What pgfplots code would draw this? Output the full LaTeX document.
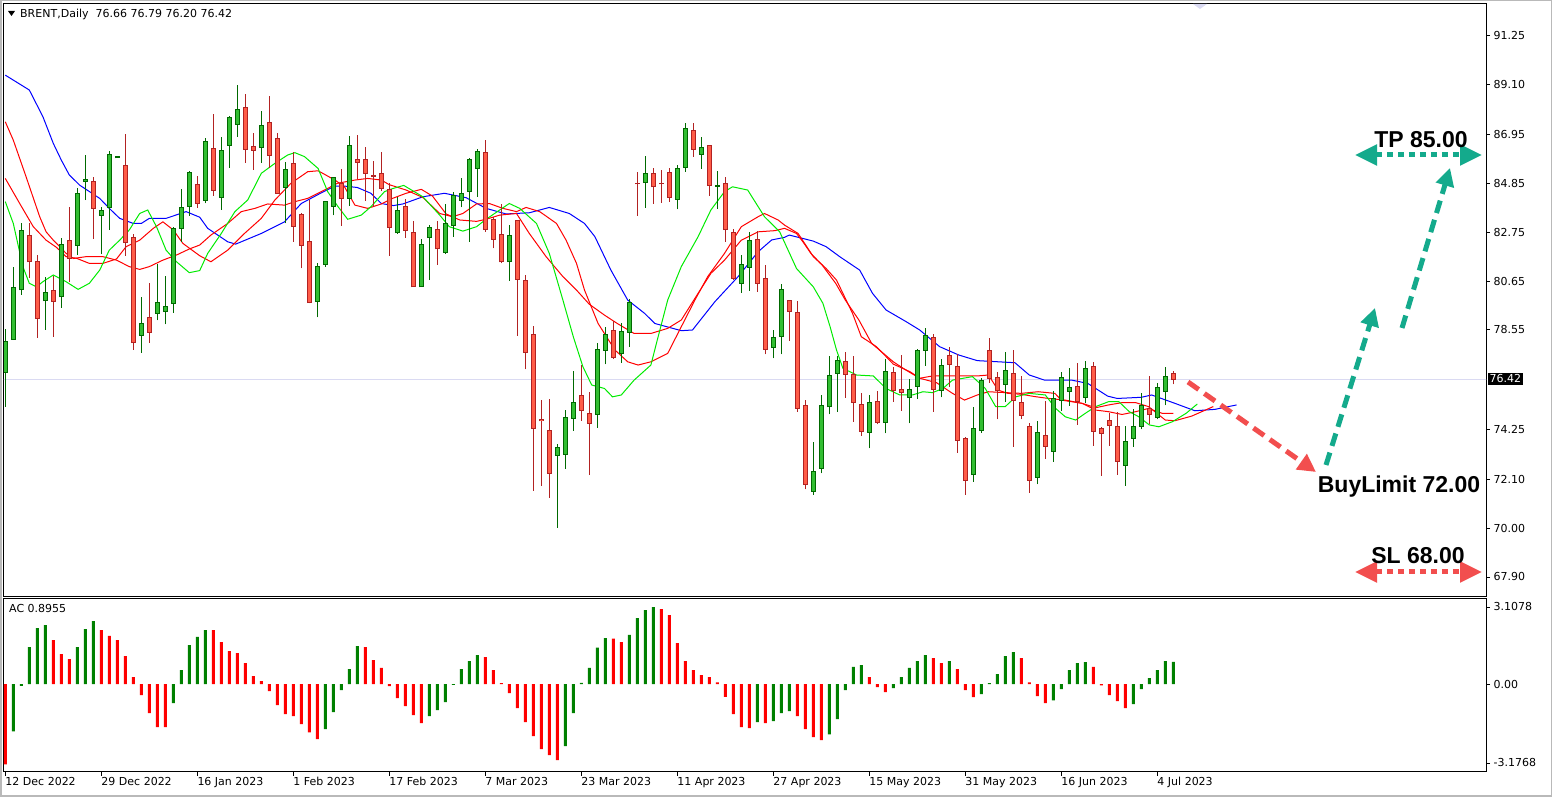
\documentclass[border=0pt]{standalone}
\usepackage{fontspec}
\setmainfont{DejaVu Sans}
\newfontfamily\annfont{Liberation Sans}
\usepackage{pgfplots}
\usepackage{pgfplotstable}
\pgfplotsset{compat=1.18}
\usetikzlibrary{arrows.meta}

\definecolor{gfill}{RGB}{50,190,50}
\definecolor{gedge}{RGB}{0,105,0}
\definecolor{rfill}{RGB}{255,92,72}
\definecolor{redge}{RGB}{178,34,34}
\definecolor{acgreen}{RGB}{0,128,0}
\definecolor{acred}{RGB}{255,0,0}
\definecolor{malime}{RGB}{0,235,0}
\definecolor{lav}{RGB}{218,218,242}
\definecolor{teal1}{RGB}{20,170,140}
\definecolor{red1}{RGB}{242,78,78}

% candles: x = bar number (12 Dec 2022 = 0)
\pgfplotstableread{
x o h l c
0 76.71 78.57 75.23 78.06
1 78.14 81.24 78.14 80.38
2 80.27 83.13 80.06 82.83
5 79.80 80.81 78.54 80.16
7 79.97 82.49 79.50 82.24
9 82.19 84.64 81.77 84.43
10 84.94 86.08 84.14 85.04
12 83.48 83.84 81.81 83.69
13 83.82 86.25 82.85 86.11
14 85.96 86.00 85.96 86.00
17 78.31 79.96 77.56 78.82
19 79.26 81.38 78.95 79.73
20 79.34 80.86 78.78 79.56
21 79.69 82.99 79.28 82.92
22 82.92 84.61 82.34 83.82
23 83.88 85.39 83.46 85.33
25 84.14 86.80 84.00 86.67
27 84.25 86.84 83.72 86.28
28 86.49 87.76 85.53 87.70
29 87.40 89.09 86.87 88.04
32 86.41 87.97 85.75 87.36
35 84.68 85.76 83.13 85.46
39 79.77 81.44 79.08 81.28
40 81.37 84.08 81.27 84.08
41 83.88 85.14 83.48 85.09
43 84.21 86.90 83.90 86.49
49 82.73 84.25 82.69 83.69
52 80.40 82.46 80.40 82.23
53 82.52 83.06 80.69 82.96
55 81.87 83.97 81.81 83.13
56 83.03 84.48 82.56 84.34
57 84.12 85.09 83.82 84.43
58 84.50 85.93 82.34 85.89
59 85.50 86.32 84.28 86.24
63 81.48 83.06 80.66 82.62
69 73.14 73.63 70.02 73.48
70 73.18 75.09 72.56 74.77
71 74.73 76.77 74.20 75.42
74 74.90 77.96 74.33 77.70
75 77.66 78.65 77.06 78.34
77 77.53 78.82 77.13 78.48
78 78.44 79.86 77.82 79.73
80 84.89 86.03 83.81 85.29
84 84.17 85.65 83.74 85.50
85 85.55 87.44 85.36 87.23
87 86.11 86.84 85.49 86.41
89 84.74 85.39 83.77 84.77
92 80.55 81.76 80.15 81.37
93 81.24 82.75 80.23 82.40
96 77.79 78.52 77.32 78.22
97 78.25 80.52 77.49 80.29
101 71.59 73.71 71.44 72.45
102 72.58 75.74 72.36 75.29
103 75.23 77.42 74.90 76.60
104 76.67 77.43 75.02 77.23
108 74.13 75.74 73.44 75.42
110 74.56 77.29 74.09 76.76
113 75.64 76.43 74.52 75.98
114 76.11 77.72 75.58 77.66
115 77.66 78.64 77.01 78.31
117 75.94 77.29 75.64 77.01
121 72.31 75.22 72.00 74.30
122 74.20 76.45 74.12 76.37
125 76.20 77.58 75.45 76.80
129 72.19 74.62 71.89 74.13
131 73.31 75.91 72.86 75.59
132 75.51 76.71 75.06 76.50
133 75.90 76.89 75.28 76.07
135 75.64 77.19 75.41 76.89
140 72.71 74.40 71.83 73.74
141 73.87 75.12 73.51 74.39
142 74.39 75.81 74.26 75.29
144 74.77 76.24 74.69 76.07
145 75.89 76.93 75.29 76.54
}\upcandles

\pgfplotstableread{
x o h l c
3 82.63 83.13 80.79 81.48
4 81.47 81.75 78.21 79.04
6 80.25 80.86 78.25 79.77
8 82.40 83.85 80.62 81.62
11 84.94 85.12 82.46 83.78
15 85.63 86.98 81.73 82.30
16 82.53 82.67 77.68 78.00
18 79.08 80.58 77.99 78.44
24 84.81 85.17 83.81 84.00
26 86.36 87.84 84.32 84.55
30 88.13 88.71 85.75 86.32
31 86.45 87.01 85.45 86.28
33 87.49 88.62 85.50 86.06
34 86.80 87.01 84.43 84.43
36 85.72 86.19 82.34 83.00
37 83.52 83.56 81.19 82.19
38 82.36 84.14 79.69 79.72
42 84.86 85.47 83.03 84.21
44 85.89 86.94 85.04 85.76
45 85.89 86.41 84.11 85.29
46 85.20 85.82 83.85 85.16
47 85.29 86.21 84.54 84.63
48 84.60 84.86 81.74 82.96
50 83.88 84.17 82.52 82.82
51 82.75 83.23 80.40 80.40
54 82.85 83.22 81.35 82.04
60 86.19 86.72 82.77 82.87
61 83.29 83.39 82.06 82.44
62 82.66 83.97 81.41 81.48
64 83.26 83.26 78.29 80.72
65 80.68 80.91 76.84 77.58
66 78.35 78.71 71.62 74.30
67 74.69 75.52 71.83 74.63
68 74.23 75.56 71.31 72.36
72 75.72 77.03 74.63 75.09
73 74.95 75.87 72.29 74.52
76 78.51 78.94 77.29 77.36
79 84.86 85.35 83.46 84.84
81 85.29 85.53 83.97 84.71
82 84.86 85.43 84.02 84.84
83 85.33 85.50 84.07 84.25
86 87.14 87.44 86.00 86.32
88 86.49 86.49 84.32 84.77
90 84.86 85.13 82.35 82.87
91 82.75 82.89 80.69 80.76
94 82.44 82.82 80.19 80.55
95 80.76 81.34 77.49 77.70
98 79.79 79.83 78.08 79.33
99 79.30 79.79 75.02 75.16
100 75.29 75.52 71.67 71.89
105 77.19 77.58 75.62 76.63
106 76.64 77.42 74.59 75.42
107 75.34 75.82 73.99 74.17
109 75.46 75.91 74.47 74.56
111 76.71 76.96 75.45 75.94
112 75.98 77.46 75.06 75.85
116 78.22 78.37 75.02 75.98
118 77.45 77.81 76.10 77.06
119 76.97 77.50 73.25 73.78
120 73.87 73.93 71.44 72.05
123 77.66 78.19 76.27 76.46
124 76.50 76.71 74.69 75.92
126 76.67 77.68 73.51 75.51
127 75.42 76.56 74.69 74.86
128 74.39 74.52 71.53 72.06
130 74.00 75.48 73.00 73.53
134 76.11 77.10 74.46 75.46
136 76.97 77.14 73.55 74.17
137 74.30 74.34 72.26 74.09
138 74.65 74.98 73.55 74.43
139 74.39 75.02 72.31 72.88
143 75.16 76.54 74.50 74.90
146 76.66 76.79 76.20 76.42
}\downcandles

% accelerator oscillator
\pgfplotstableread{
x v
1 -1.90
2 -0.07
3 1.49
4 2.26
5 2.38
9 1.49
10 2.22
11 2.54
21 -0.77
22 0.56
23 1.57
24 1.90
25 2.18
40 -1.81
41 -1.13
42 -0.24
43 0.60
44 1.53
53 -1.29
54 -1.05
55 -0.73
56 -0.03
57 0.60
58 0.93
59 1.17
70 -2.50
71 -1.17
72 0.05
73 0.65
74 1.47
75 1.85
78 1.98
79 2.66
80 2.98
81 3.10
94 -1.53
96 -1.49
97 -1.17
98 -1.09
103 -2.02
104 -1.41
105 -0.24
106 0.69
107 0.77
111 -0.16
112 0.28
113 0.65
114 0.93
115 1.17
118 0.93
122 -0.40
123 0.04
124 0.40
125 1.13
126 1.29
131 -0.65
132 -0.20
133 0.56
134 0.85
135 0.89
141 -0.81
142 -0.20
143 0.24
144 0.56
145 0.93
146 0.90
}\acup

\pgfplotstableread{
x v
0 -3.23
6 1.77
7 1.21
8 1.01
12 2.18
13 1.94
14 1.77
15 1.13
16 0.28
17 -0.44
18 -1.17
19 -1.73
20 -1.73
26 2.18
27 1.69
28 1.33
29 1.25
30 0.85
31 0.32
32 0.12
33 -0.28
34 -0.85
35 -1.21
36 -1.29
37 -1.61
38 -1.94
39 -2.22
45 1.49
46 0.97
47 0.65
48 -0.08
49 -0.56
50 -0.89
51 -1.25
52 -1.57
60 1.09
61 0.56
62 0.04
63 -0.36
64 -0.97
65 -1.53
66 -2.10
67 -2.62
68 -2.86
69 -3.06
76 1.83
77 1.69
82 3.02
83 2.78
84 1.65
85 0.93
86 0.56
87 0.36
88 0.28
89 0.07
90 -0.51
91 -1.21
92 -1.73
93 -1.77
95 -1.57
99 -1.29
100 -1.81
101 -2.14
102 -2.26
108 0.28
109 -0.12
110 -0.32
116 1.05
117 0.85
119 0.60
120 -0.24
121 -0.52
127 1.05
128 0.07
129 -0.48
130 -0.77
136 0.69
137 -0.05
138 -0.44
139 -0.69
140 -0.97
}\acdown

\pgfplotsset{
  wicks/.style={draw=none, mark=none, mark size=0pt, error bars/.cd, y dir=plus, y explicit,
    error mark=none, error bar style={solid, line width=1pt, draw=#1}},
  bodies/.style 2 args={draw=none, mark=none, mark size=0pt, error bars/.cd, y dir=plus, y explicit,
    error mark=none, error bar style={solid, line width=#2, draw=#1}},
}

\begin{document}
\begin{tikzpicture}
\path (0pt,0pt) rectangle (1552pt,797pt);
\draw[gray!55, line width=1.5pt] (0.75pt,0.75pt) rectangle (1551.25pt,796.25pt);

\begin{axis}[
  at={(4pt,200pt)}, anchor=south west, scale only axis,
  width=1482pt, height=593pt,
  xmin=-0.1625, xmax=185.09, ymin=67.036, ymax=92.586,
  xtick=\empty,
  ytick={67.90,70.00,72.10,74.25,78.55,80.65,82.75,84.85,86.95,89.10,91.25},
  ytick pos=right, yticklabel pos=right,
  tick align=outside, major tick length=4pt,
  tick style={black, line width=0.8pt},
  yticklabel style={font=\fontsize{11}{13}\selectfont,
    /pgf/number format/.cd, fixed, fixed zerofill, precision=2, assume math mode=true},
  axis line style={line width=1pt},
]
\draw[lav, line width=1pt] (axis cs:-1,76.42) -- (axis cs:190,76.42);

% moving averages
\addplot[blue, line width=1pt] table {
x y
0 89.52
3.0 88.88
4.7 87.73
6.0 86.58
7.0 85.86
8.0 85.22
9.3 84.78
11.8 84.21
13.0 83.78
14.3 83.35
16.0 83.13
17.0 83.13
18.0 83.35
20.1 83.35
22.6 83.64
24.3 83.40
25.3 82.92
27.8 82.34
28.8 82.24
32.0 82.70
34.9 83.20
37.0 83.99
39.5 84.45
41.2 84.74
42.4 84.74
44.0 84.68
45.7 84.43
47.0 83.99
48.5 83.90
49.7 83.97
52.2 84.28
54.9 84.43
57.6 84.24
60.1 83.78
62.6 83.54
65.5 83.59
68.0 83.82
70.5 83.56
72.4 83.13
73.7 82.56
75.7 81.12
77.8 79.83
79.9 79.26
81.2 78.82
84.5 78.51
85.9 78.54
88.7 79.76
91.6 80.84
94.1 81.91
95.8 82.42
97.4 82.53
98.0 82.63
101.0 82.37
102.6 82.13
104.3 81.70
106.8 81.12
108.4 80.12
110.1 79.40
112.6 78.90
114.3 78.54
116.8 77.82
119.2 77.46
121.5 77.22
126.2 77.13
128.0 76.60
129.9 76.38
133.3 76.38
135.3 76.24
137.8 75.69
139.0 75.59
142.0 75.64
143.3 75.74
146.2 75.38
148.7 75.06
151.2 75.12
153.9 75.31
};
\addplot[red, line width=1pt] table {
x y
0 87.51
1 86.72
2.6 85.14
4.3 83.42
5.1 82.77
6.0 82.41
6.8 82.13
7.6 81.84
8.5 81.62
10.1 81.70
12.2 81.70
13.9 81.55
15.5 81.27
16.8 81.15
18.0 81.27
19.7 81.55
21.4 81.77
23.0 82.03
24.3 82.20
25.7 82.63
27.8 83.13
29.5 83.64
31.2 83.78
32.8 83.97
34.9 83.92
36.2 84.07
37.8 84.21
40.3 84.64
41.5 84.86
43.7 85.00
45.3 85.07
47.0 85.00
48.0 84.80
50.1 84.57
52.2 84.25
54.3 83.56
55.9 83.42
57.2 83.56
58.9 83.97
60.5 83.99
62.2 83.78
63.9 83.64
65.1 83.82
66.8 83.64
68.9 83.13
70.1 82.41
71.4 81.41
72.4 80.26
74.1 78.82
76.2 77.68
77.8 77.17
79.1 77.03
80.7 77.17
82.8 77.53
84.5 78.68
86.2 79.83
87.8 80.84
89.9 81.84
92.0 82.99
94.1 83.42
94.9 83.56
96.6 83.28
97.4 83.06
99.1 82.70
101.0 81.70
102.6 81.19
103.9 80.69
104.7 80.12
105.9 79.26
107.0 78.25
108.9 77.82
111.0 77.07
113.1 76.74
114.3 76.46
116.4 76.27
118.4 75.81
119.9 75.52
121.5 75.74
122.9 75.88
124.5 75.85
127.0 75.81
129.1 75.88
131.2 75.81
132.0 75.52
134.6 75.38
136.3 75.19
137.9 75.31
139.6 75.41
141.3 75.41
142.9 75.24
145.0 74.66
146.2 74.63
148.3 74.83
151.0 75.24
};
\addplot[red, line width=1pt] table {
x y
0 85.07
1.8 83.99
3.5 82.99
5.1 82.41
6.4 82.10
7.6 81.70
8.9 81.63
10.5 81.41
12.2 81.41
13.9 81.60
15.1 82.13
16.8 82.41
18.5 82.92
19.7 83.20
21.0 82.85
22.2 82.27
24.3 81.74
25.7 81.48
27.8 81.98
29.9 82.70
32.0 83.35
33.7 84.14
35.7 84.86
37.8 85.36
39.1 85.40
41.2 85.00
42.4 84.71
43.7 83.92
45.3 83.78
47.0 83.97
48.4 84.21
50.1 84.43
52.0 84.60
53.4 84.31
55.1 83.54
56.8 83.28
58.9 83.22
60.1 83.31
61.8 83.49
63.9 83.56
65.5 82.70
67.6 81.70
69.7 80.84
71.4 80.26
73.0 79.65
74.9 79.18
76.5 78.82
78.6 78.39
80.7 78.39
82.8 78.61
84.5 78.97
86.6 80.12
88.2 80.98
89.9 81.55
92.0 82.41
94.1 82.77
96.2 82.82
97.4 82.92
98.9 82.70
99.7 82.34
100.7 81.84
102.1 81.34
103.8 80.55
105.0 79.83
106.7 78.97
108.3 77.96
111.0 77.17
112.6 76.81
114.3 76.46
115.9 76.56
118.8 76.56
121.5 76.56
122.9 76.60
124.1 75.95
125.3 75.81
127.0 75.77
128.7 75.67
130.4 75.59
132.5 75.52
134.6 75.38
136.3 75.09
137.9 75.02
139.6 74.90
141.3 75.02
142.9 75.16
144.6 74.95
146.0 74.95
};
\addplot[malime, line width=1pt] table {
x y
0 84.07
1 83.13
2.2 81.27
3.0 80.55
3.9 80.40
4.7 80.62
6.0 80.91
7.6 80.62
9.1 80.29
10.5 80.55
11.8 81.12
13.0 81.98
14.3 82.41
15.5 82.85
16.8 83.56
17.8 83.71
18.9 82.99
20.1 81.98
21.4 81.48
23.0 81.01
24.3 81.10
25.3 81.84
27.0 82.70
28.7 83.64
30.3 84.14
32.0 85.29
33.7 85.72
35.3 86.08
36.2 86.18
37.4 86.01
39.1 85.50
40.3 84.50
41.6 83.85
42.8 83.31
44.5 83.49
45.7 83.85
47.4 84.50
48.3 84.62
49.8 84.77
52.2 84.28
54.3 83.49
55.5 82.99
57.2 82.80
58.9 82.99
60.1 83.31
61.8 83.71
63.0 83.99
64.3 83.78
66.4 83.13
68.0 81.84
69.7 79.83
71.0 78.25
72.2 76.96
73.3 76.17
74.9 76.02
75.9 75.66
77.0 75.74
78.6 76.38
80.7 77.03
81.5 78.11
82.8 79.83
84.5 81.27
86.6 82.56
88.2 83.71
89.9 84.50
90.9 84.71
92.8 84.57
94.9 83.42
96.8 82.77
98.9 81.19
101.0 80.40
102.2 79.69
103.1 78.68
103.9 77.68
104.7 76.89
106.4 76.60
108.5 76.56
110.1 76.02
111.8 75.74
113.4 75.74
114.7 75.88
115.9 75.84
117.2 76.02
118.4 76.38
120.9 76.53
122.5 76.02
123.8 75.24
125.0 75.24
126.3 75.66
128.0 75.81
130.0 75.74
131.3 75.16
132.5 74.80
133.8 74.66
135.0 74.95
136.3 75.24
137.9 75.45
139.2 75.45
140.5 75.02
141.7 74.80
143.0 74.45
144.2 74.37
145.9 74.59
147.6 74.95
149.0 75.35
};

% candles: wick, body edge, body fill
\addplot[wicks=gedge] table[x=x, y=l, y error plus expr=\thisrow{h}-\thisrow{l}] {\upcandles};
\addplot[bodies={gedge}{5.5pt}] table[x=x, y expr={min(\thisrow{o},\thisrow{c})-0.022},
  y error plus expr={max(abs(\thisrow{c}-\thisrow{o}),0.02)+0.044}] {\upcandles};
\addplot[bodies={gfill}{3.5pt}] table[x=x, y expr={min(\thisrow{o},\thisrow{c})+0.022},
  y error plus expr={max(abs(\thisrow{c}-\thisrow{o})-0.044,0)}] {\upcandles};
\addplot[wicks=redge] table[x=x, y=l, y error plus expr=\thisrow{h}-\thisrow{l}] {\downcandles};
\addplot[bodies={redge}{5.5pt}] table[x=x, y expr={min(\thisrow{o},\thisrow{c})-0.022},
  y error plus expr={max(abs(\thisrow{c}-\thisrow{o}),0.02)+0.044}] {\downcandles};
\addplot[bodies={rfill}{3.5pt}] table[x=x, y expr={min(\thisrow{o},\thisrow{c})+0.022},
  y error plus expr={max(abs(\thisrow{c}-\thisrow{o})-0.044,0)}] {\downcandles};
\end{axis}

\begin{axis}[
  at={(4pt,25pt)}, anchor=south west, scale only axis,
  width=1482pt, height=173pt,
  xmin=-0.1625, xmax=185.09, ymin=-3.541, ymax=3.43,
  ytick={-3.1768,0,3.1078}, yticklabels={-3.1768,0.00,3.1078},
  ytick pos=right, yticklabel pos=right,
  xtick={0,12,...,144},
  xticklabels={12 Dec 2022,29 Dec 2022,16 Jan 2023,1 Feb 2023,17 Feb 2023,7 Mar 2023,
    23 Mar 2023,11 Apr 2023,27 Apr 2023,15 May 2023,31 May 2023,16 Jun 2023,4 Jul 2023},
  xtick pos=bottom,
  tick align=outside, major tick length=4pt,
  tick style={black, line width=0.8pt},
  yticklabel style={font=\fontsize{11}{13}\selectfont},
  xticklabel style={font=\fontsize{11}{13}\selectfont, anchor=north west, inner sep=0pt, yshift=-1pt},
  axis line style={line width=1pt},
]
\addplot[ybar, bar width=3pt, bar shift=0pt, fill=acgreen, draw=none] table[x=x, y=v] {\acup};
\addplot[ybar, bar width=3pt, bar shift=0pt, fill=acred, draw=none] table[x=x, y=v] {\acdown};
\end{axis}

% header texts
\fill (8pt,786pt) -- (15pt,786pt) -- (11.5pt,781pt) -- cycle;
\node[anchor=west, inner sep=0pt, font=\fontsize{11}{13}\selectfont] at (20pt,783pt) {BRENT,Daily\ \ 76.66 76.79 76.20 76.42};
\node[anchor=west, inner sep=0pt, font=\fontsize{11}{13}\selectfont] at (9pt,188pt) {AC 0.8955};
\fill[lav] (1193pt,793pt) -- (1207pt,793pt) -- (1200pt,788pt) -- cycle;
\node[anchor=west, fill=black, text=white, inner sep=1.5pt, font=\fontsize{11}{12}\selectfont] at (1488pt,418pt) {76.42};

% trade plan annotations
\draw[red1, line width=5pt, dash pattern=on 13pt off 7pt, -{Triangle[length=18pt,width=18pt]}] (1188pt,415pt) -- (1316pt,325pt);
\draw[teal1, line width=5pt, dash pattern=on 13pt off 7pt, -{Triangle[length=18pt,width=18pt]}] (1326pt,332pt) -- (1375pt,489pt);
\draw[teal1, line width=5pt, dash pattern=on 13pt off 7pt, -{Triangle[length=18pt,width=18pt]}] (1402pt,469pt) -- (1450pt,629pt);
\draw[teal1, line width=5pt, dash pattern=on 6pt off 5pt, {Triangle[length=22pt,width=20pt]}-{Triangle[length=22pt,width=20pt]}] (1355pt,642pt) -- (1482pt,642pt);
\draw[red1, line width=5pt, dash pattern=on 6pt off 5pt, {Triangle[length=22pt,width=20pt]}-{Triangle[length=22pt,width=20pt]}] (1355pt,225pt) -- (1482pt,225pt);
\node[font=\annfont\bfseries\fontsize{23}{25}\selectfont, inner sep=0pt] at (1421pt,657pt) {TP 85.00};
\node[font=\annfont\bfseries\fontsize{23}{25}\selectfont, inner sep=0pt] at (1399pt,310pt) {BuyLimit 72.00};
\node[font=\annfont\bfseries\fontsize{23}{25}\selectfont, inner sep=0pt] at (1418pt,241pt) {SL 68.00};
\end{tikzpicture}
\end{document}
